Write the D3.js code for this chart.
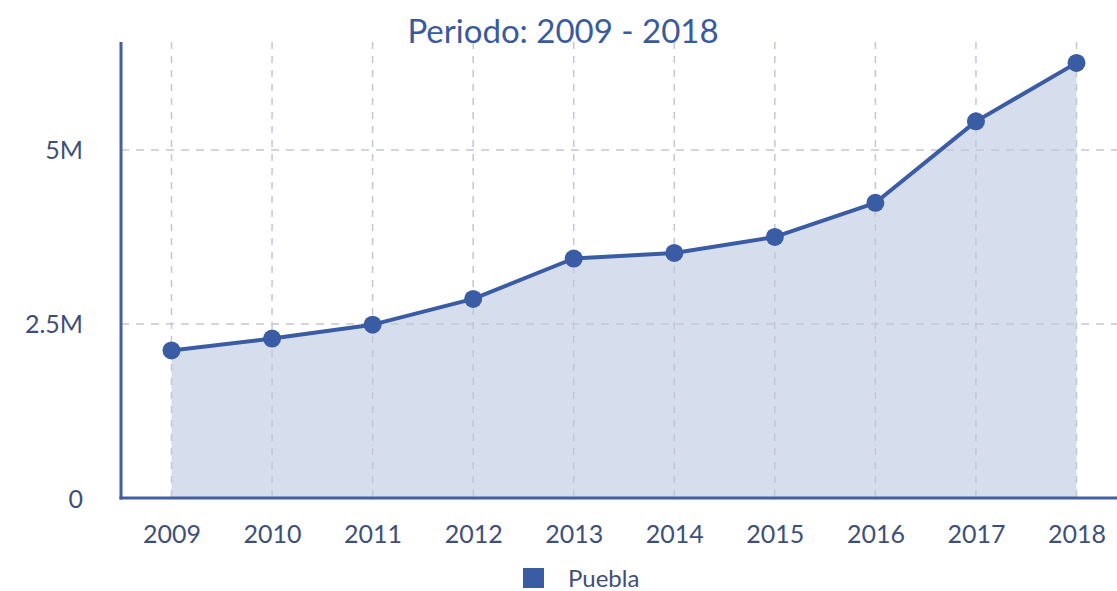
<!DOCTYPE html>
<html>
<head>
<meta charset="utf-8">
<script src="https://cdn.jsdelivr.net/npm/d3@7"></script>
<style>
  html, body { margin: 0; padding: 0; background: #ffffff; }
  svg { display: block; font-family: Lato, "Open Sans", sans-serif; }
</style>
</head>
<body>
<svg id="chart" width="1117" height="591"></svg>
<script>
// Yearly values for Puebla
const years = ["2009", "2010", "2011", "2012", "2013", "2014", "2015", "2016", "2017", "2018"];
const values = [2120000, 2290000, 2490000, 2860000, 3440000, 3520000, 3750000, 4240000, 5410000, 6250000];
const yTicks = [0, 2500000, 5000000];
const yTickLabels = ["0", "2.5M", "5M"];
const seriesName = "Puebla";
const title = "Periodo: 2009 - 2018";

const svg = d3.select("#chart");
const W = 1117, H = 591;
const plotLeft = 121, plotRight = W, plotTop = 42, plotBottom = 498;
const fontFamily = "Lato, 'Open Sans', sans-serif";

const lineColor = "#3a5ca4";
const axisColor = "#42609e";
const fillColor = "#d6ddec";
const textColor = "#3e4f7a";
const gridColor = "#c3c7d3";

const x = d3.scalePoint().domain(years).range([171.5, 1076.5]);
const y = d3.scaleLinear().domain([0, 6550000]).range([plotBottom, plotTop]);

const data = years.map((yr, i) => ({ year: yr, value: values[i] }));

// Area under the line
svg.append("path")
  .datum(data)
  .attr("fill", fillColor)
  .attr("d", d3.area().x(d => x(d.year)).y0(y(0)).y1(d => y(d.value)));

// Vertical dashed grid
svg.append("g")
  .selectAll("line")
  .data(years)
  .join("line")
  .attr("x1", d => x(d)).attr("x2", d => x(d))
  .attr("y1", plotTop).attr("y2", plotBottom)
  .attr("stroke", gridColor)
  .attr("stroke-width", 1.5)
  .attr("stroke-dasharray", "7,7");

// Horizontal dashed grid
svg.append("g")
  .selectAll("line")
  .data(yTicks.filter(v => v > 0))
  .join("line")
  .attr("x1", plotLeft).attr("x2", plotRight)
  .attr("y1", d => y(d)).attr("y2", d => y(d))
  .attr("stroke", gridColor)
  .attr("stroke-width", 1.5)
  .attr("stroke-dasharray", "8,7");

// Axes
const yAxis = d3.axisLeft(y).tickValues(yTicks)
  .tickFormat((d, i) => yTickLabels[i]).tickSize(0).tickPadding(38);
const gy = svg.append("g").attr("transform", `translate(${plotLeft},0)`).call(yAxis)
  .attr("font-family", fontFamily);
gy.select(".domain").remove();
gy.selectAll("text").attr("fill", textColor).attr("font-size", 25).attr("dy", "0.36em");

const xAxis = d3.axisBottom(x).tickSize(0);
const gx = svg.append("g").attr("transform", `translate(0,${plotBottom})`).call(xAxis)
  .attr("font-family", fontFamily);
gx.select(".domain").remove();
gx.selectAll("text").attr("fill", textColor).attr("font-size", 25)
  .attr("y", 36).attr("dy", "0.36em");

svg.append("line")
  .attr("x1", plotLeft).attr("x2", plotLeft).attr("y1", plotTop).attr("y2", plotBottom + 1.5)
  .attr("stroke", axisColor).attr("stroke-width", 3);
svg.append("line")
  .attr("x1", plotLeft - 1.5).attr("x2", plotRight).attr("y1", plotBottom).attr("y2", plotBottom)
  .attr("stroke", axisColor).attr("stroke-width", 3);

// Line and markers
svg.append("path")
  .datum(data)
  .attr("fill", "none")
  .attr("stroke", lineColor)
  .attr("stroke-width", 4)
  .attr("stroke-linejoin", "round")
  .attr("d", d3.line().x(d => x(d.year)).y(d => y(d.value)));

svg.append("g")
  .selectAll("circle")
  .data(data)
  .join("circle")
  .attr("cx", d => x(d.year))
  .attr("cy", d => y(d.value))
  .attr("r", 9)
  .attr("fill", lineColor);

// Title
svg.append("text")
  .attr("x", 563).attr("y", 43)
  .attr("text-anchor", "middle")
  .attr("fill", "#3a5a9e")
  .attr("font-size", 33)
  .text(title);

// Legend
const lg = svg.append("g").attr("transform", "translate(523,568)");
lg.append("rect").attr("width", 21).attr("height", 20).attr("fill", lineColor);
lg.append("text").attr("x", 45).attr("y", 10).attr("dy", "0.36em")
  .attr("fill", textColor).attr("font-size", 24).text(seriesName);
</script>
</body>
</html>
